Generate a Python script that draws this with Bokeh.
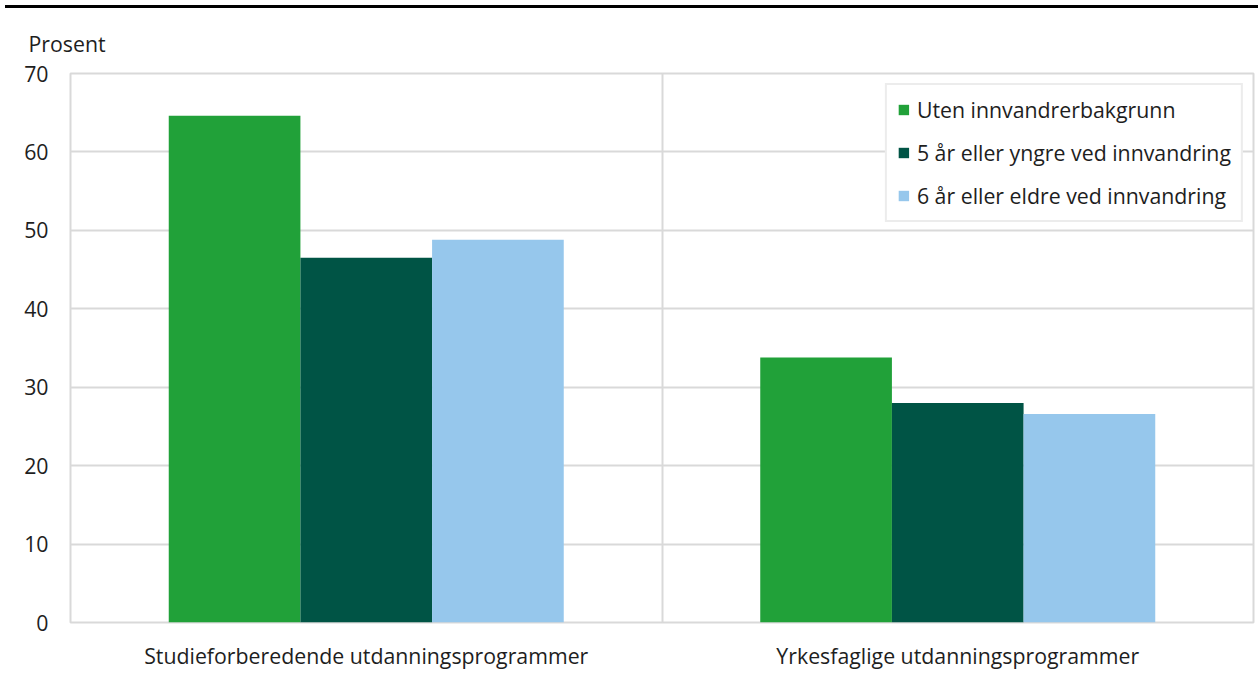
from bokeh.plotting import figure
from bokeh.models import (ColumnDataSource, Range1d, FixedTicker, Div, Legend)
from bokeh.transform import dodge
from bokeh.layouts import column
from bokeh.embed import file_html
from bokeh.resources import INLINE

categories = ["Studieforberedende utdanningsprogrammer", "Yrkesfaglige utdanningsprogrammer"]
series_names = ["Uten innvandrerbakgrunn", "5 år eller yngre ved innvandring", "6 år eller eldre ved innvandring"]
uten = [64.6, 33.8]
yngre = [46.5, 28.0]
eldre = [48.8, 26.6]
y_ticks = [0, 10, 20, 30, 40, 50, 60, 70]
colors = ["#21a139", "#005445", "#96c7ec"]

FONT = "Open Sans"
TXT = "#1e1e1e"
GRID = "#d9d9d9"

xpos = [i + 0.5 for i in range(len(categories))]
src = ColumnDataSource(dict(x=xpos, uten=uten, yngre=yngre, eldre=eldre))

p = figure(width=1256, height=664, output_backend="svg", toolbar_location=None,
           x_range=Range1d(0, len(categories)), y_range=Range1d(0, 70),
           min_border_left=70, min_border_right=3, min_border_top=65, min_border_bottom=48,
           title="Prosent")
p.outline_line_color = GRID
p.outline_line_width = 2
p.background_fill_color = "white"
p.border_fill_color = "white"

p.title.align = "left"
p.title.offset = -42
p.title.standoff = 31
p.title.text_font = FONT
p.title.text_font_size = "21.3px"
p.title.text_font_style = "normal"
p.title.text_color = TXT

bw = 0.2226
renderers = []
for off, key, col, name in zip([-bw, 0, bw], ["uten", "yngre", "eldre"], colors, series_names):
    r = p.vbar(x=dodge("x", off, range=p.x_range), top=key, width=bw, bottom=0,
               source=src, fill_color=col, line_color=None)
    renderers.append((name, [r]))

# grids
p.xgrid.ticker = FixedTicker(ticks=list(range(len(categories) + 1)))
p.ygrid.ticker = FixedTicker(ticks=y_ticks)
for g in (p.xgrid, p.ygrid):
    g.grid_line_color = GRID
    g.grid_line_width = 2

# axes
p.xaxis.ticker = FixedTicker(ticks=xpos)
p.xaxis.major_label_overrides = {x: c for x, c in zip(xpos, categories)}
p.yaxis.ticker = FixedTicker(ticks=y_ticks)
for ax in (p.xaxis, p.yaxis):
    ax.axis_line_color = None
    ax.major_tick_line_color = None
    ax.minor_tick_line_color = None
    ax.major_tick_out = 0
    ax.major_tick_in = 0
    ax.major_label_text_font = FONT
    ax.major_label_text_font_size = "21.3px"
    ax.major_label_text_color = TXT
p.yaxis.major_label_standoff = 22
p.xaxis.major_label_standoff = 18

legend = Legend(items=renderers, location="top_right")
legend.margin = 10
legend.padding = 10
legend.spacing = 14
legend.label_height = 29
legend.glyph_width = 13
legend.glyph_height = 13
legend.label_standoff = 7
legend.label_text_font = FONT
legend.label_text_font_size = "21.3px"
legend.label_text_color = TXT
legend.border_line_color = GRID
legend.border_line_width = 2
legend.background_fill_color = "white"
legend.background_fill_alpha = 1
p.add_layout(legend, "center")

topline = Div(width=1253, height=3, margin=(5, 0, 0, 5),
              styles={"background-color": "black", "overflow": "hidden"})
layout = column(topline, p, spacing=0)

open("out.html", "w").write(file_html(layout, INLINE))
